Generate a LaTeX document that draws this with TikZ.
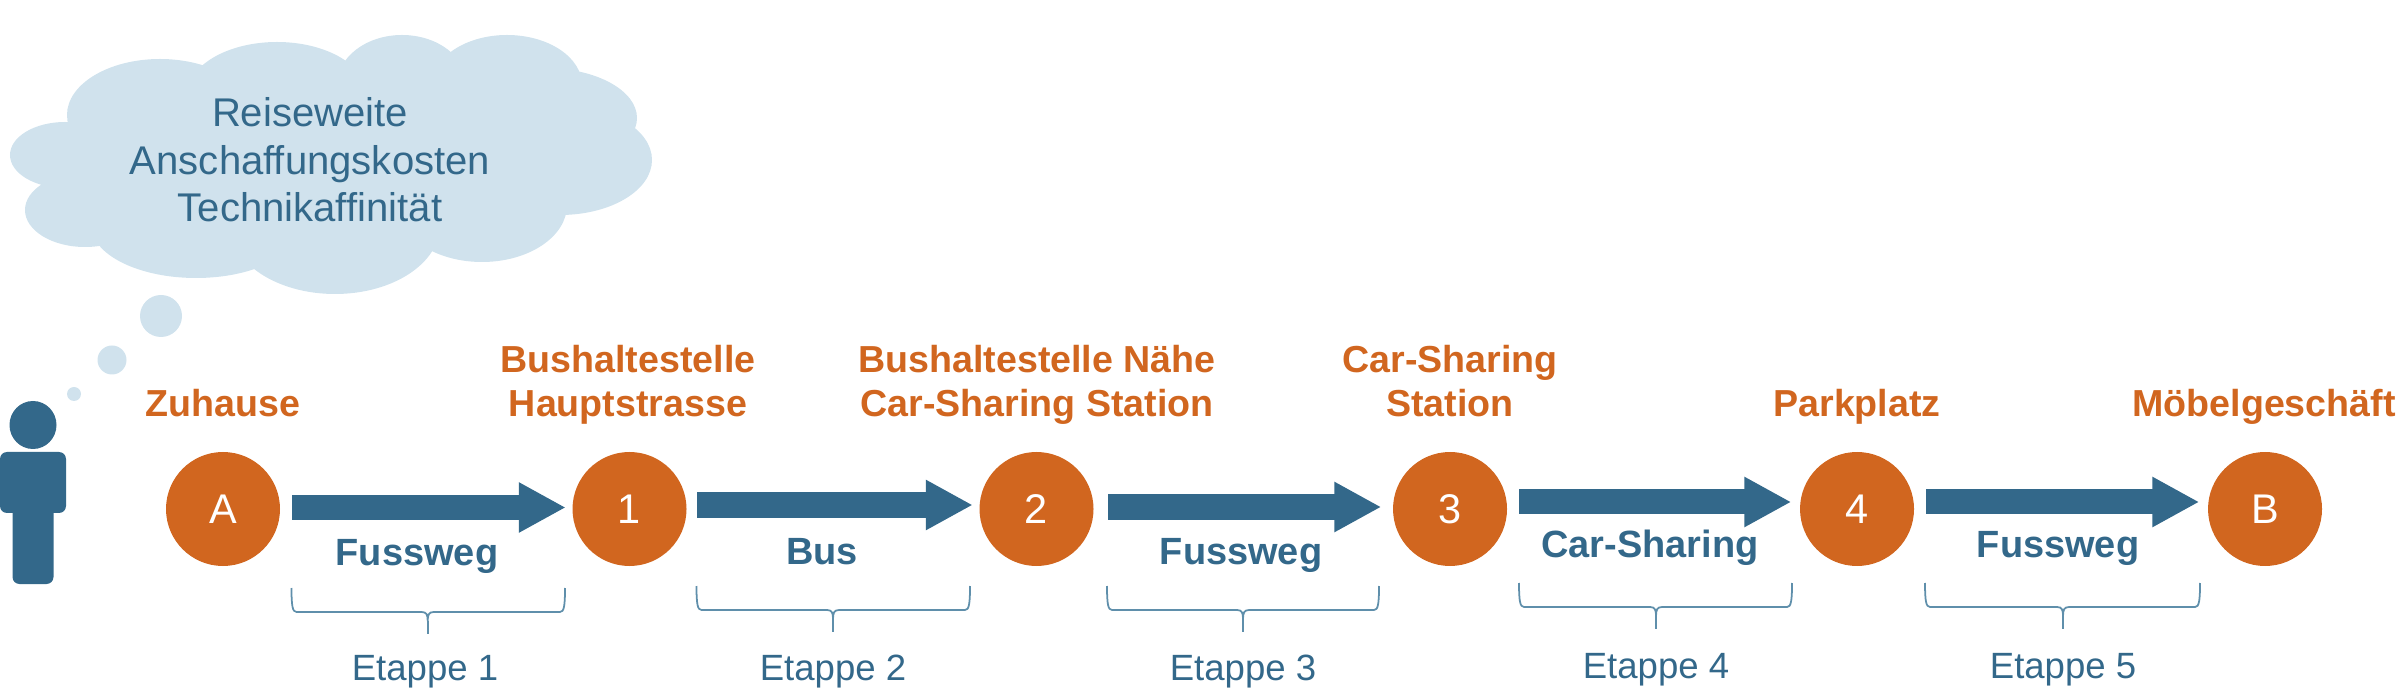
\documentclass[tikz,border=0pt]{standalone}
\usepackage{fontspec}
\setmainfont{Liberation Sans}
\usepackage{xcolor}
\usetikzlibrary{positioning,arrows.meta,calc}

\definecolor{wayblue}{HTML}{33688A}
\definecolor{braceblue}{HTML}{5F8FAB}
\definecolor{stoporange}{HTML}{D1661F}
\definecolor{cloudblue}{HTML}{D0E2ED}

% brace: left x, right x, stem x, top y
\newcommand{\etappebrace}[4]{
  \draw[etappeline] (#1,#4) .. controls (#1,#4-0.18) and (#1+0.01,#4-0.24) .. (#1+0.05,#4-0.24)
    -- (#3-0.06,#4-0.24) .. controls (#3-0.01,#4-0.24) and (#3,#4-0.27) .. (#3,#4-0.33)
    .. controls (#3,#4-0.27) and (#3+0.01,#4-0.24) .. (#3+0.06,#4-0.24)
    -- (#2-0.05,#4-0.24) .. controls (#2-0.01,#4-0.24) and (#2,#4-0.18) .. (#2,#4);
  \draw[etappeline] (#3,#4-0.33) -- (#3,#4-0.46);
}

\begin{document}
\begin{tikzpicture}[
    >=Latex,
    stop/.style={circle, fill=stoporange, minimum size=1.14cm, inner sep=0pt, text=white, font=\fontsize{11.8}{13}\selectfont},
    ort/.style={anchor=base, align=center, text=stoporange, font=\fontsize{10.7}{12.8}\selectfont\bfseries},
    mode/.style={anchor=base, text=wayblue, font=\fontsize{10.8}{12.8}\selectfont\bfseries},
    etappe/.style={anchor=base, text=wayblue, font=\fontsize{10.4}{12}\selectfont},
    way/.style={wayblue, line width=0.25cm, -{Triangle[length=0.47cm,width=0.47cm]}, shorten <=0.115cm, shorten >=0.08cm},
    etappeline/.style={braceblue, line width=0.5pt}
]
\useasboundingbox (0,0) rectangle (24,6.9);

% === Thought cloud ===
\fill[cloudblue] (0.65,5.35) ellipse (0.55 and 0.33)
    (0.85,4.80) ellipse (0.60 and 0.37)
    (1.96,4.65) ellipse (1.05 and 0.53)
    (3.35,4.65) ellipse (1.05 and 0.69)
    (4.82,4.85) ellipse (0.85 and 0.57)
    (5.60,5.30) ellipse (0.92 and 0.55)
    (5.45,5.72) ellipse (0.92 and 0.50)
    (5.07,6.05) ellipse (0.75 and 0.50)
    (4.02,6.05) ellipse (0.65 and 0.50)
    (2.77,5.95) ellipse (0.90 and 0.53)
    (1.60,5.75) ellipse (0.93 and 0.56)
    (3.30,5.30) ellipse (2.50 and 0.90);
\fill[cloudblue] (1.61,3.74) circle (0.21);
\fill[cloudblue] (1.12,3.30) circle (0.145);
\fill[cloudblue] (0.74,2.96) circle (0.07);
\node[align=center, text=wayblue, font=\fontsize{11.4}{13.5}\selectfont] (gedanke) at (3.10,5.30) {Reiseweite\\Anschaffungskosten\\Technikaffinität};

% Person
\fill[wayblue] (0.33,2.65) ellipse (0.235 and 0.24);
\fill[wayblue, rounded corners=0.07cm] (0,2.38) rectangle (0.66,1.77);
\fill[wayblue, rounded corners=0.07cm] (0.125,1.85) rectangle (0.535,1.06);

% === Stops ===
\node[stop] (nA) at (2.23,1.81) {A};
\node[stop] (n1) at (6.295,1.81) {1};
\node[stop] (n2) at (10.365,1.81) {2};
\node[stop] (n3) at (14.50,1.81) {3};
\node[stop] (n4) at (18.57,1.81) {4};
\node[stop] (nB) at (22.65,1.81) {B};

\node[ort] (lA) at (2.23,2.73) {Zuhause};
\node[ort] (l1) at (6.28,2.73) {Bushaltestelle\\Hauptstrasse};
\node[ort] (l2) at (10.37,2.73) {Bushaltestelle Nähe\\Car-Sharing Station};
\node[ort] (l3) at (14.50,2.73) {Car-Sharing\\Station};
\node[ort] (l4) at (18.57,2.73) {Parkplatz};
\node[ort] (lB) at (22.64,2.73) {Möbelgeschäft};

% Arrows between the stops
\draw[way, shorten >=0.06cm] ([yshift=0.15mm]nA.east) -- ([yshift=0.15mm]n1.west);
\draw[way, shorten <=0.10cm, shorten >=0.06cm] ([yshift=0.4mm]n1.east) -- ([yshift=0.4mm]n2.west);
\draw[way, shorten <=0.14cm, shorten >=0.11cm] ([yshift=0.2mm]n2.east) -- ([yshift=0.2mm]n3.west);
\draw[way] ([yshift=0.7mm]n3.east) -- ([yshift=0.7mm]n4.west);
\draw[way] ([yshift=0.7mm]n4.east) -- ([yshift=0.7mm]nB.west);

\node[mode] (m1) at (4.17,1.25) {Fussweg};
\node[mode] (m2) at (8.22,1.26) {Bus};
\node[mode] (m3) at (12.41,1.26) {Fussweg};
\node[mode] (m4) at (16.50,1.32) {Car-Sharing};
\node[mode] (m5) at (20.58,1.32) {Fussweg};

% === Etappen ===
\etappebrace{2.915}{5.65}{4.277}{1.02}
\etappebrace{6.965}{9.70}{8.33}{1.04}
\etappebrace{11.07}{13.79}{12.43}{1.04}
\etappebrace{15.19}{17.92}{16.56}{1.07}
\etappebrace{19.25}{22.00}{20.63}{1.07}

\node[etappe] (e1) at (4.25,0.10) {Etappe 1};
\node[etappe] (e2) at (8.33,0.10) {Etappe 2};
\node[etappe] (e3) at (12.43,0.10) {Etappe 3};
\node[etappe] (e4) at (16.56,0.12) {Etappe 4};
\node[etappe] (e5) at (20.63,0.12) {Etappe 5};
\end{tikzpicture}
\end{document}
